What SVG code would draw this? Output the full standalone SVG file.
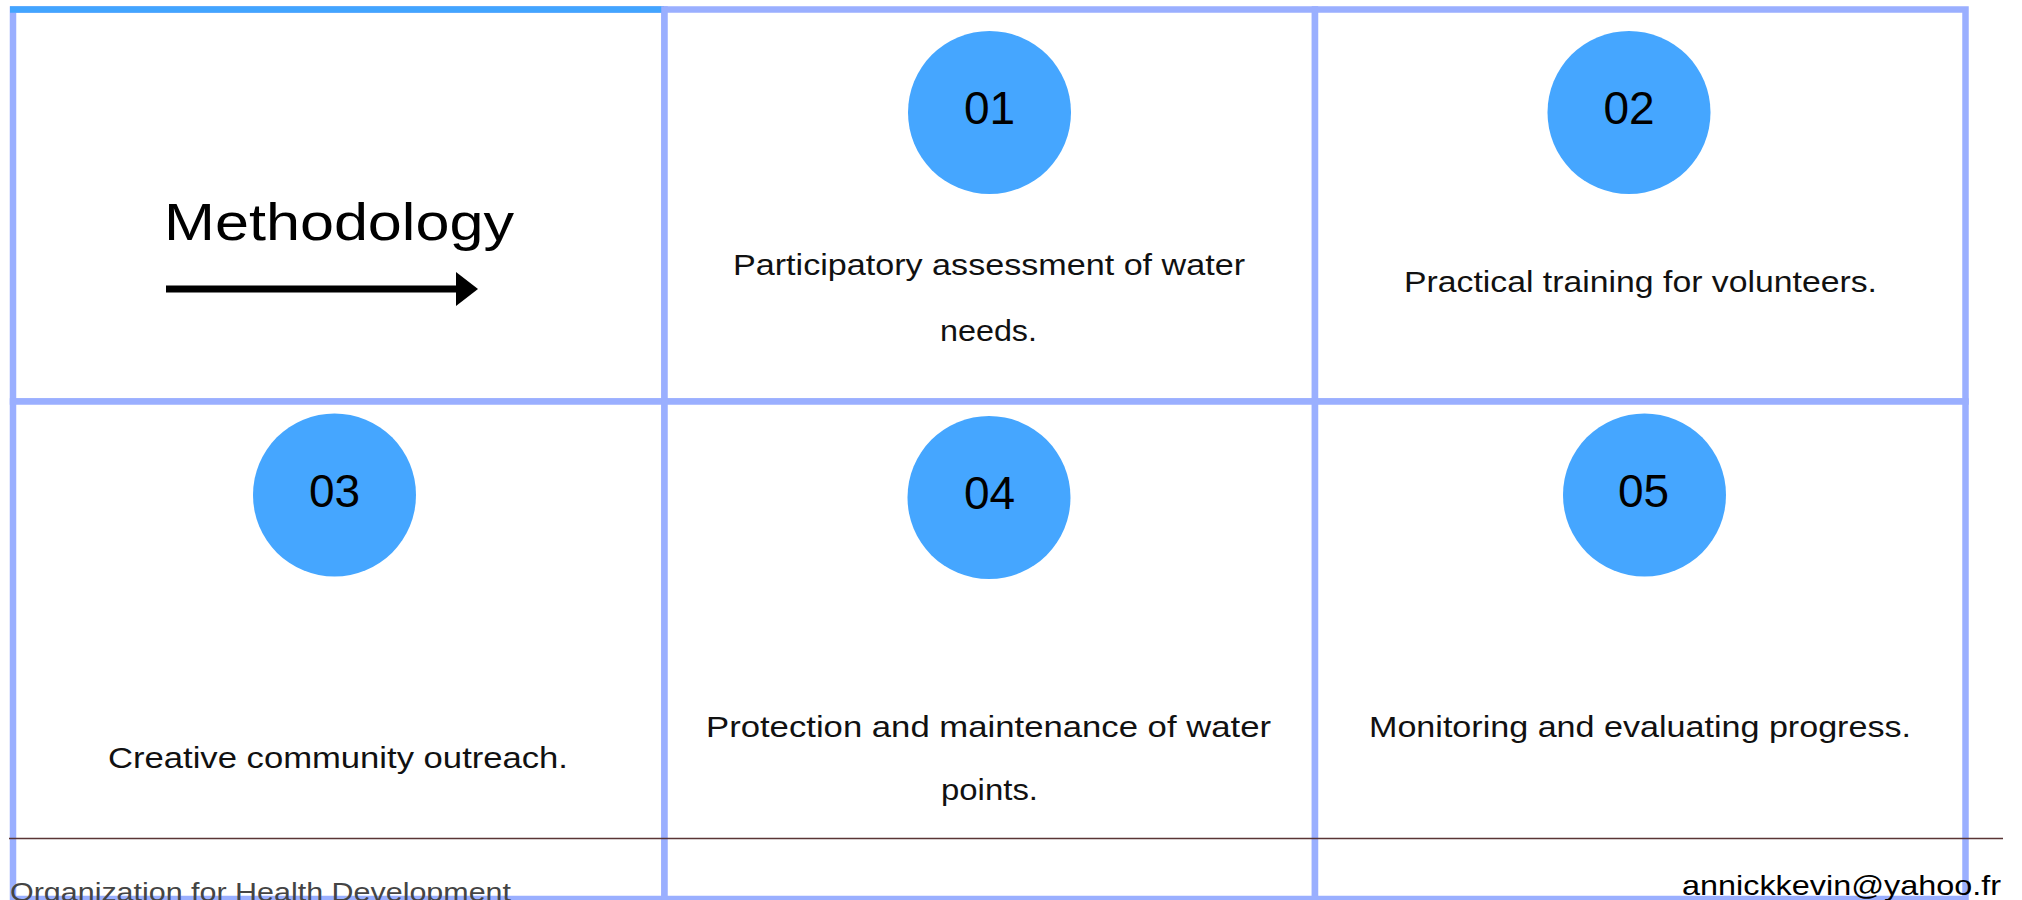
<svg xmlns="http://www.w3.org/2000/svg" width="2022" height="900" viewBox="0 0 2022 900">
  <style>
    .cell { fill: #ffffff; stroke: #9aafff; stroke-width: 6.5; }
    .dot { fill: #45a6ff; }
    .num { font-family: "Liberation Sans", Arial, sans-serif; font-size: 46px; fill: #000; text-anchor: middle; }
    .body { font-family: "Liberation Sans", Arial, sans-serif; font-size: 29px; fill: #111; text-anchor: middle; }
    .title { font-family: "Liberation Sans", Arial, sans-serif; font-size: 52px; fill: #000; }
  </style>
  <rect x="0" y="0" width="2022" height="900" fill="#ffffff"/>

  <g id="cell-methodology">
    <rect class="cell" x="13" y="9.5" width="651.5" height="392"/>
    <line x1="10" y1="9.5" x2="664" y2="9.5" stroke="#42a5ff" stroke-width="6.5"/>
    <text class="title" x="164" y="240" textLength="350" lengthAdjust="spacingAndGlyphs">Methodology</text>
  </g>

  <g id="cell-01">
    <rect class="cell" x="664.5" y="9.5" width="650.5" height="392"/>
    <circle class="dot" cx="989.5" cy="112.5" r="81.5"/>
    <text class="num" x="989.5" y="124">01</text>
    <text class="body" x="989" y="275" textLength="512" lengthAdjust="spacingAndGlyphs">Participatory assessment of water</text>
    <text class="body" x="988.5" y="341" textLength="97" lengthAdjust="spacingAndGlyphs">needs.</text>
  </g>

  <g id="cell-02">
    <rect class="cell" x="1315" y="9.5" width="650.5" height="392"/>
    <circle class="dot" cx="1629" cy="112.5" r="81.5"/>
    <text class="num" x="1629" y="124">02</text>
    <text class="body" x="1640.5" y="292" textLength="473" lengthAdjust="spacingAndGlyphs">Practical training for volunteers.</text>
  </g>

  <g id="cell-03">
    <rect class="cell" x="13" y="401.5" width="651.5" height="497.5"/>
    <circle class="dot" cx="334.5" cy="495" r="81.5"/>
    <text class="num" x="334.5" y="507">03</text>
    <text class="body" x="338" y="768" textLength="460" lengthAdjust="spacingAndGlyphs">Creative community outreach.</text>
  </g>

  <g id="cell-04">
    <rect class="cell" x="664.5" y="401.5" width="650.5" height="497.5"/>
    <circle class="dot" cx="989" cy="497.5" r="81.5"/>
    <text class="num" x="989.5" y="509">04</text>
    <text class="body" x="988.5" y="737" textLength="565" lengthAdjust="spacingAndGlyphs">Protection and maintenance of water</text>
    <text class="body" x="989.5" y="800" textLength="97" lengthAdjust="spacingAndGlyphs">points.</text>
  </g>

  <g id="cell-05">
    <rect class="cell" x="1315" y="401.5" width="650.5" height="497.5"/>
    <circle class="dot" cx="1644.5" cy="495" r="81.5"/>
    <text class="num" x="1643.5" y="507">05</text>
    <text class="body" x="1640" y="737" textLength="542" lengthAdjust="spacingAndGlyphs">Monitoring and evaluating progress.</text>
  </g>

  <g id="connectors">
    <line x1="166" y1="289" x2="458" y2="289" stroke="#000" stroke-width="7"/>
    <polygon points="456,272 478,289 456,306" fill="#000"/>
  </g>

  <g id="footer">
    <line x1="9" y1="838.5" x2="2003" y2="838.5" stroke="#5a3535" stroke-width="1.5"/>
    <text x="10" y="901" font-family="Liberation Sans, Arial, sans-serif" font-size="26" fill="#444" textLength="501" lengthAdjust="spacingAndGlyphs">Organization for Health Development</text>
    <text x="1682" y="895" font-family="Liberation Sans, Arial, sans-serif" font-size="28" fill="#000" textLength="319" lengthAdjust="spacingAndGlyphs">annickkevin@yahoo.fr</text>
  </g>
</svg>
